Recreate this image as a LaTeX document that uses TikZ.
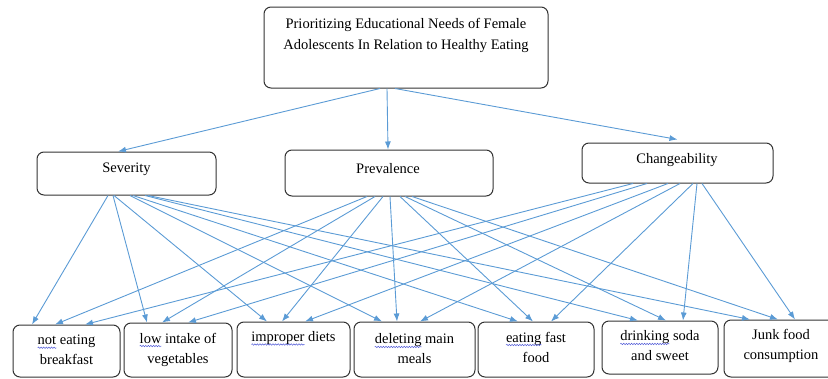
\documentclass[tikz,border=0pt]{standalone}
\usepackage{fontspec}
\setmainfont{Liberation Serif}
\usetikzlibrary{arrows.meta,calc,decorations.pathmorphing}
\definecolor{connc}{RGB}{91,155,213}
\definecolor{wavc}{RGB}{80,90,215}
\newcommand\sqw[1]{\tikz[baseline=(w.base)]{\node[inner sep=0pt,outer sep=0pt](w){#1};\draw[overlay,wavc,line width=0.5pt,decorate,decoration={snake,amplitude=0.7pt,segment length=2.6pt}] ([yshift=-3pt]w.base west) -- ([yshift=-3pt]w.base east);}}
\begin{document}
\begin{tikzpicture}[x=1pt,y=-1pt,
  box/.style={draw=black!80, line width=1pt, rounded corners=7pt, inner sep=0pt},
  lbl/.style={font=\fontsize{14.5}{20}\selectfont, align=center, inner sep=0pt},
  conn/.style={draw=connc, line width=0.9pt, -{Latex[length=8pt,width=6pt]}}]
\useasboundingbox (0,0) rectangle (828,378);

% top box
\node[box, minimum width=284, minimum height=81] (top) at (406,47.5) {};
\node[lbl, font=\fontsize{14.5}{21}\selectfont] (toptxt) at (406,35.5) {Prioritizing Educational Needs of Female\\Adolescents In Relation to Healthy Eating};

% middle boxes
\node[box, minimum width=179, minimum height=43] (sev) at (126.5,173.5) {};
\node[lbl] (sevtxt) at (126.5,169.5) {Severity};
\node[box, minimum width=208, minimum height=46] (prev) at (389,173) {};
\node[lbl] (prevtxt) at (388,168.5) {Prevalence};
\node[box, minimum width=191, minimum height=40] (chg) at (677.5,163) {};
\node[lbl] (chgtxt) at (677,160.5) {Changeability};

% bottom boxes
\node[box, minimum width=107, minimum height=52] (b1) at (66.5,351) {};
\node[lbl] (t1) at (66.5,350) {\sqw{not} eating\\breakfast};
\node[box, minimum width=108, minimum height=54] (b2) at (178,350) {};
\node[lbl] (t2) at (178,349.5) {\sqw{low} intake of\\vegetables};
\node[box, minimum width=113, minimum height=55] (b3) at (293.5,349.5) {};
\node[lbl] (t3) at (293.5,338) {\sqw{improper} diets};
\node[box, minimum width=121, minimum height=55] (b4) at (414.5,349.5) {};
\node[lbl] (t4) at (414.5,349) {\sqw{deleting} main\\meals};
\node[box, minimum width=116, minimum height=55] (b5) at (536,349.5) {};
\node[lbl] (t5) at (536,347) {\sqw{eating} fast\\food};
\node[box, minimum width=116, minimum height=53] (b6) at (660,347.5) {};
\node[lbl] (t6) at (660,346) {\sqw{drinking} soda\\and sweet};
\node[box, minimum width=114, minimum height=57] (b7) at (781,348.5) {};
\node[lbl] (t7) at (781,345.5) {Junk food\\consumption};

% top connectors
\draw[conn] ($(top.south)+(-26,0)$) -- ($(sev.north)+(-8.5,0)$);
\draw[conn] ($(top.south)+(-19,0)$) -- ($(prev.north)+(-1,0)$);
\draw[conn] ($(top.south)+(-11,0)$) -- ($(chg.north)+(0,-3)$);

% Severity connectors
\draw[conn] ($(sev.south)+(-18.5,0)$) -- ($(b1.north)+(-34.5,0)$);
\draw[conn] ($(sev.south)+(-13.5,0)$) -- ($(b2.north)+(-31,0)$);
\draw[conn] ($(sev.south)+(-12.5,0)$) -- ($(b3.north)+(-26.5,0)$);
\draw[conn] ($(sev.south)+(3.5,0)$) -- ($(b4.north)+(-32.5,0)$);
\draw[conn] ($(sev.south)+(6.5,0)$) -- ($(b5.north)+(-18,0)$);
\draw[conn] ($(sev.south)+(18.5,0)$) -- ($(b6.north)+(-22,0)$);
\draw[conn] ($(sev.south)+(21.5,0)$) -- ($(b7.north)+(-31,0)$);

% Prevalence connectors
\draw[conn] ($(prev.south)+(-22,0)$) -- ($(b1.north)+(-11.5,0)$);
\draw[conn] ($(prev.south)+(-14,0)$) -- ($(b2.north)+(-16,0)$);
\draw[conn] ($(prev.south)+(-6,0)$) -- ($(b3.north)+(-11.5,0)$);
\draw[conn] ($(prev.south)+(1,0)$) -- ($(b4.north)+(-17.5,0)$);
\draw[conn] ($(prev.south)+(11,0)$) -- ($(b5.north)+(-3,0)$);
\draw[conn] ($(prev.south)+(16,0)$) -- ($(b6.north)+(6,0)$);
\draw[conn] ($(prev.south)+(23,0)$) -- ($(b7.north)+(-3,0)$);

% Changeability connectors
\draw[conn] ($(chg.south)+(-44.5,0)$) -- ($(b1.north)+(18.5,0)$);
\draw[conn] ($(chg.south)+(-30.5,0)$) -- ($(b2.north)+(10,0)$);
\draw[conn] ($(chg.south)+(-9.5,0)$) -- ($(b3.north)+(11.5,0)$);
\draw[conn] ($(chg.south)+(2.5,0)$) -- ($(b4.north)+(5.5,0)$);
\draw[conn] ($(chg.south)+(15.5,0)$) -- ($(b5.north)+(15,0)$);
\draw[conn] ($(chg.south)+(19.5,0)$) -- ($(b6.north)+(23,0)$);
\draw[conn] ($(chg.south)+(24.5,0)$) -- ($(b7.north)+(14,0)$);
\end{tikzpicture}
\end{document}
